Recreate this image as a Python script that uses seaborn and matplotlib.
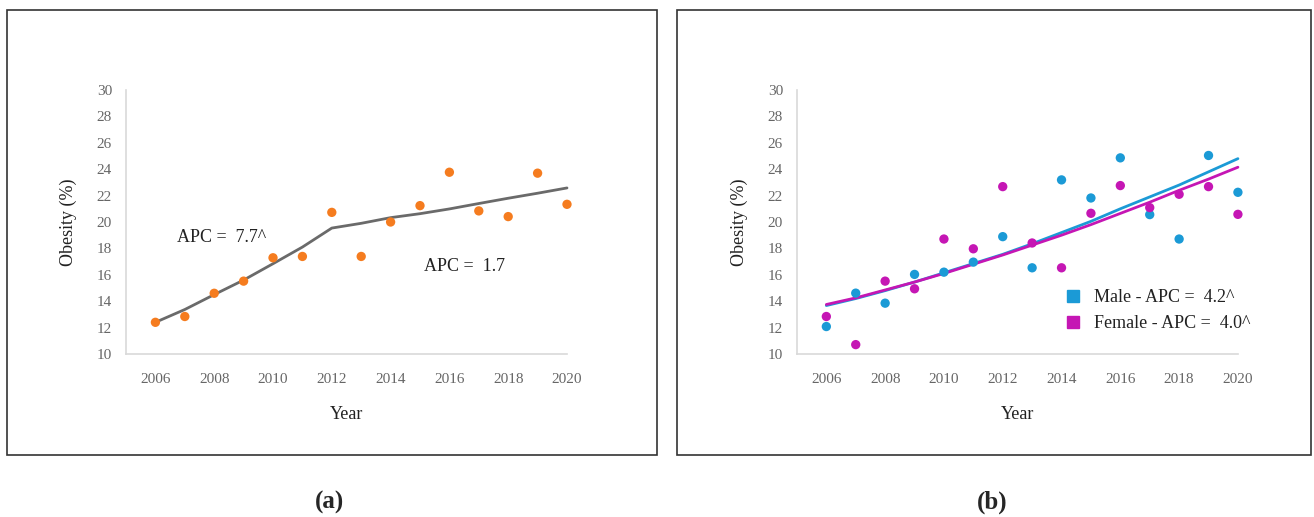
import matplotlib
matplotlib.use("Agg")
import matplotlib.pyplot as plt
import seaborn as sns
import pandas as pd
from matplotlib.patches import Rectangle
from matplotlib.lines import Line2D

# Data
years = list(range(2006, 2021))

# (a) total obesity and joinpoint fit
total_obs = [12.4, 12.84, 14.6, 15.52, 17.29, 17.39, 20.73, 17.39, 20.0, 21.24, 23.77, 20.84, 20.41, 23.7, 21.34]
total_fit = [12.4, 13.37, 14.5, 15.6, 16.84, 18.1, 19.54, 19.9, 20.33, 20.63, 20.99, 21.4, 21.8, 22.18, 22.58]

# (b) by sex
male_obs = [12.08, 14.61, 13.85, 16.03, 16.2, 16.96, 18.89, 16.53, 23.19, 21.82, 24.86, 20.56, 18.71, 25.04, 22.25]
male_fit = [13.67, 14.2, 14.8, 15.45, 16.15, 16.85, 17.55, 18.35, 19.2, 20.05, 21.0, 21.9, 22.8, 23.8, 24.8]
female_obs = [12.84, 10.71, 15.52, 14.94, 18.71, 17.97, 22.68, 18.41, 16.53, 20.66, 22.76, 21.09, 22.1, 22.68, 20.58]
female_fit = [13.75, 14.25, 14.85, 15.45, 16.1, 16.8, 17.5, 18.25, 19.0, 19.8, 20.65, 21.5, 22.4, 23.25, 24.15]

sns.set_style("white")
plt.rcParams['font.family'] = ['Liberation Serif', 'DejaVu Serif']

orange = '#f57c1f'
gray_line = '#6a6a6a'
blue = '#1b9ad6'
magenta = '#c516b4'
tick_col = '#666666'

df_a = pd.DataFrame({'Year': years, 'obs': total_obs, 'fit': total_fit})
df_b = pd.DataFrame({'Year': years, 'male': male_obs, 'male_fit': male_fit,
                     'female': female_obs, 'female_fit': female_fit})

fig = plt.figure(figsize=(13.14, 5.17), dpi=100)

# panel frames
for x0, w in [(0.0053, 0.4947), (0.5152, 0.4825)]:
    fig.add_artist(Rectangle((x0, 0.1199), w, 0.8607, transform=fig.transFigure,
                             fill=False, edgecolor='#333333', linewidth=1.2))

ax1 = fig.add_axes([0.0959, 0.3153, 0.3356, 0.5106])
ax2 = fig.add_axes([0.6065, 0.3153, 0.3356, 0.5106])


def style_axes(ax):
    ax.set_xlim(2005, 2020)
    ax.set_ylim(10, 30)
    ax.set_xticks(range(2006, 2021, 2))
    ax.set_yticks(range(10, 31, 2))
    sns.despine(ax=ax)
    for s in ['left', 'bottom']:
        ax.spines[s].set_color('#d9d9d9')
        ax.spines[s].set_linewidth(1.2)
    ax.tick_params(axis='both', length=0, labelsize=11, colors=tick_col)
    ax.tick_params(axis='x', pad=14)
    ax.tick_params(axis='y', pad=10)
    ax.set_xlabel('Year', fontsize=13, labelpad=14, color='#222222')
    ax.set_ylabel('Obesity (%)', fontsize=13, labelpad=14, color='#222222')
    ax.grid(False)


# (a)
sns.lineplot(data=df_a, x='Year', y='fit', ax=ax1, color=gray_line, linewidth=2, clip_on=False)
sns.scatterplot(data=df_a, x='Year', y='obs', ax=ax1, color=orange, s=45, edgecolor='none',
                zorder=3, clip_on=False)
style_axes(ax1)
ax1.text(2006.75, 18.8, 'APC =  7.7^', fontsize=13, color='#222222', va='center')
ax1.text(2015.15, 16.6, 'APC =  1.7', fontsize=13, color='#222222', va='center')

# (b)
sns.lineplot(data=df_b, x='Year', y='male_fit', ax=ax2, color=blue, linewidth=2, clip_on=False)
sns.lineplot(data=df_b, x='Year', y='female_fit', ax=ax2, color=magenta, linewidth=2, clip_on=False)
sns.scatterplot(data=df_b, x='Year', y='male', ax=ax2, color=blue, s=45, edgecolor='none',
                zorder=3, clip_on=False)
sns.scatterplot(data=df_b, x='Year', y='female', ax=ax2, color=magenta, s=45, edgecolor='none',
                zorder=3, clip_on=False)
style_axes(ax2)
handles = [Line2D([], [], marker='s', linestyle='none', color=blue, markersize=9),
           Line2D([], [], marker='s', linestyle='none', color=magenta, markersize=9)]
ax2.legend(handles, ['Male - APC =  4.2^', 'Female - APC =  4.0^'], loc='lower left',
           bbox_to_anchor=(0.575, 0.02), frameon=False, fontsize=13, handlelength=0.7,
           handletextpad=0.8, labelspacing=0.5, labelcolor='#222222')

fig.text(0.2511, 0.029, '(a)', ha='center', va='center', fontsize=18, fontweight='bold')
fig.text(0.755, 0.029, '(b)', ha='center', va='center', fontsize=18, fontweight='bold')

fig.savefig('out.png', dpi=100)
